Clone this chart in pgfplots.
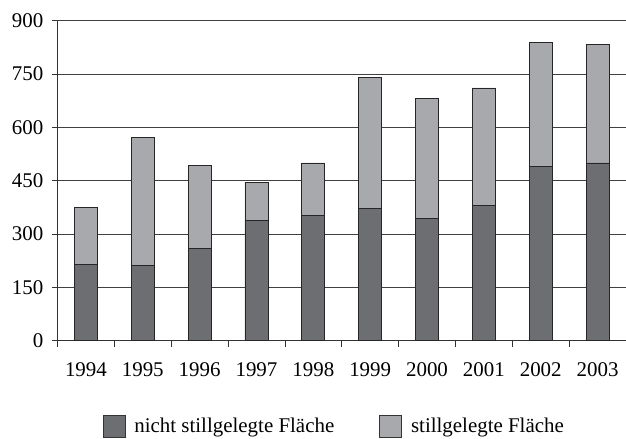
\documentclass[border=0pt]{standalone}
\usepackage{pgfplots}
\pgfplotsset{compat=1.18}
\usepackage{fontspec}
\setmainfont{Liberation Serif}
\definecolor{darkbar}{HTML}{6D6E71}
\definecolor{lightbar}{HTML}{A7A9AC}
\begin{document}
\begin{tikzpicture}
\fontsize{21}{24}\selectfont
\path[use as bounding box] (-57.5bp,-98.3bp) rectangle (568.5bp,340.7bp);
\begin{axis}[
  scale only axis,
  width=568.5bp, height=320bp,
  at={(0,0)},
  xmin=-0.5, xmax=9.5,
  ymin=0, ymax=900,
  ybar stacked,
  bar width=23bp,
  axis x line=bottom, axis y line=left,
  axis line style={-, black!80, line width=0.8pt},
  xtick={0,...,9},
  xticklabels={1994,1995,1996,1997,1998,1999,2000,2001,2002,2003},
  minor xtick={-0.5,0.5,...,8.5},
  ytick={0,150,...,900},
  ymajorgrids,
  grid style={black!75, line width=0.9pt},
  tick align=outside,
  major x tick style={draw=none},
  minor tick length=6bp,
  major tick length=5bp,
  tick style={black!80, line width=0.8pt},
  every tick label/.append style={font=\fontsize{21}{24}\selectfont},
  /pgf/number format/assume math mode=true,
  yticklabel style={xshift=-2bp},
  xticklabel style={yshift=-10bp},
  legend style={at={(0.485,-0.269)}, anchor=center, draw=none, legend columns=2,
    font=\fontsize{21}{24}\selectfont, nodes={inner sep=0pt},
    /tikz/every even column/.append style={column sep=45bp}},
  legend image code/.code={\draw[#1, draw=black!80, line width=0.8pt] (0bp,-11bp) rectangle (22bp,11bp); \path (31bp,0bp);},
]
\addplot[fill=darkbar, draw=black!85, line width=0.8pt] coordinates {
(0,215) (1,212) (2,259) (3,337) (4,353) (5,371) (6,343) (7,381) (8,489) (9,500)};
\addplot[fill=lightbar, draw=black!85, line width=0.8pt] coordinates {
(0,161) (1,360) (2,233) (3,108) (4,147) (5,369) (6,339) (7,330) (8,349) (9,334)};
\legend{nicht stillgelegte Fläche, stillgelegte Fläche}
\end{axis}
\end{tikzpicture}
\end{document}
